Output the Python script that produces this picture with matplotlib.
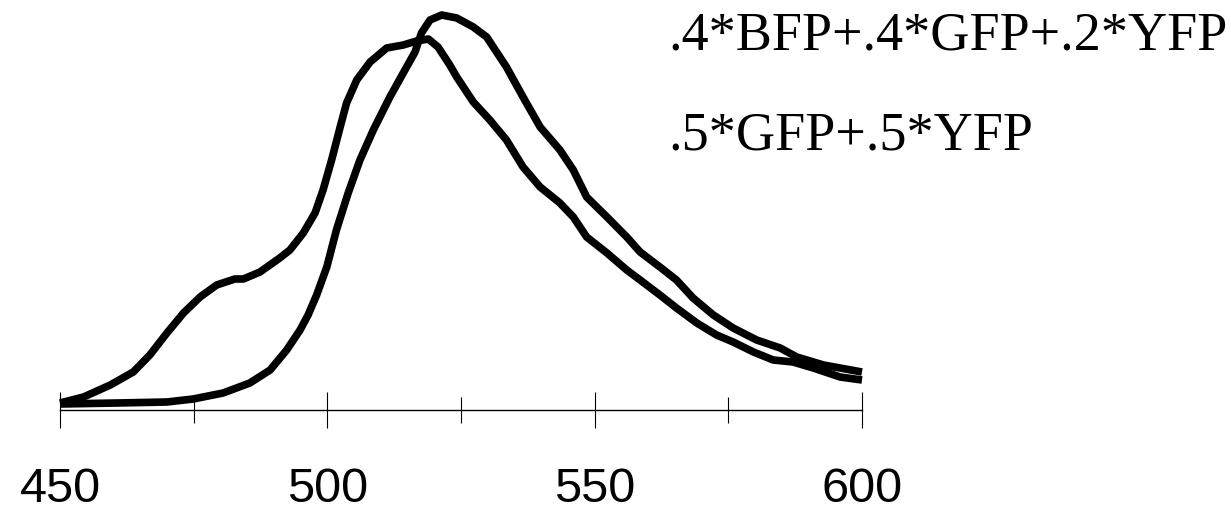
"""
Emission spectra of two fluorescent-protein mixtures
"""

import matplotlib
matplotlib.use('Agg')
import matplotlib.pyplot as plt

# Wavelength (nm) and intensity (a.u.)
wl_bgy = [450, 454.4, 459.4, 463.7, 466.8, 470.0, 473.1, 476.2, 479.3, 482.7,
          484.3, 487.4, 491.1, 493.0, 495.5, 497.7, 499.2, 500.8, 502.4, 503.6,
          505.5, 508.0, 511.1, 514.2, 516.7, 518.9, 520.7, 522.9, 524.2, 527.3,
          530.4, 533.5, 536.6, 539.8, 543.5, 546.0, 548.5, 552.3, 556.0, 558.5,
          562.2, 565.3, 569.1, 572.8, 575.9, 579.7, 583.4, 587.1, 590.9, 595.9,
          600]
int_bgy = [7, 13, 25, 38, 55, 77, 97, 113, 125, 131,
           131, 138, 152, 160, 177, 197, 220, 250, 283, 307,
           330, 348, 362, 365, 369, 371, 363, 345, 333, 308,
           290, 270, 243, 223, 207, 193, 173, 157, 140, 130,
           115, 102, 87, 75, 68, 58, 50, 48, 42, 33,
           30]

wl_gy = [450, 460.6, 470.0, 474.9, 480.5, 485.5, 489.3, 492.4, 494.9, 496.4,
         498.0, 499.9, 501.7, 503.9, 506.1, 508.6, 511.7, 514.2, 516.4, 517.6,
         519.2, 521.4, 524.2, 527.3, 529.8, 533.5, 536.6, 539.8, 543.5, 546.0,
         548.5, 552.3, 556.0, 558.5, 562.2, 565.3, 568.4, 572.2, 575.9, 580.3,
         584.7, 587.8, 592.8, 600]
int_gy = [6, 7, 8, 11, 17, 27, 40, 60, 80, 95,
          115, 143, 180, 217, 250, 280, 313, 337, 358, 377,
          390, 395, 392, 383, 373, 343, 313, 283, 260, 240,
          213, 193, 173, 158, 143, 130, 112, 95, 82, 70,
          62, 53, 45, 38]

labels = ['.4*BFP+.4*GFP+.2*YFP', '.5*GFP+.5*YFP']
major_ticks = [450, 500, 550, 600]
minor_ticks = [475, 525, 575]

W, H = 1231, 516
fig = plt.figure(figsize=(W / 100, H / 100), dpi=100)
fig.patch.set_facecolor('white')

ax = fig.add_axes([60 / W, (H - 410) / H, 802 / W, 410 / H])
ax.set_facecolor('none')

for wl, inten in [(wl_bgy, int_bgy), (wl_gy, int_gy)]:
    ax.plot(wl, inten, color='black', linewidth=5.5,
            solid_joinstyle='round', solid_capstyle='butt', clip_on=False)

ax.set_xlim(450, 600)
ax.set_ylim(0, 410)

for side in ['top', 'right', 'left']:
    ax.spines[side].set_visible(False)
ax.spines['bottom'].set_linewidth(1.0)
ax.set_yticks([])

ax.set_xticks(major_ticks)
ax.set_xticks(minor_ticks, minor=True)
ax.tick_params(axis='x', which='major', direction='inout', length=26,
               width=0.8, pad=28, labelsize=35)
ax.tick_params(axis='x', which='minor', direction='inout', length=19,
               width=0.8)
for lab in ax.get_xticklabels():
    lab.set_fontfamily('Liberation Sans')

# legend-like text at top right
fig.text(668 / W, (H - 50) / H, labels[0], family='Liberation Serif',
         fontsize=39, va='baseline', ha='left')
fig.text(668 / W, (H - 149) / H, labels[1], family='Liberation Serif',
         fontsize=39, va='baseline', ha='left')

fig.savefig('out.png', dpi=100, facecolor='white')
plt.close(fig)
